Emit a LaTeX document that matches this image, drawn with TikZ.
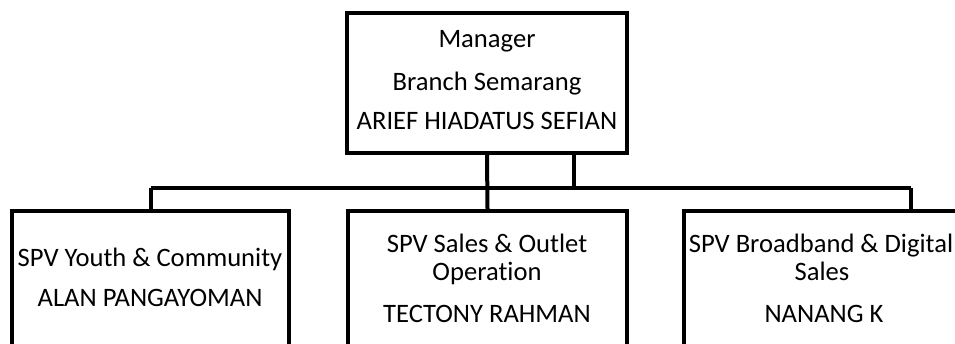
\documentclass[tikz,border=0pt]{standalone}
\usepackage{fontspec}
\setmainfont[Ligatures=NoCommon]{Carlito}
\begin{document}
\begin{tikzpicture}[x=1pt,y=-1pt,
  orgbox/.style={draw=black,line width=4pt,fill=white,inner sep=0pt},
  wire/.style={draw=black,line width=4pt},
  lbl/.style={anchor=base,inner sep=0pt,font=\fontsize{26.6}{30}\selectfont}]
\useasboundingbox (0,0) rectangle (955,344);
\clip (0,0) rectangle (955,344);

% bus level and the taps hanging from it
\coordinate (bus) at (0,188);
\coordinate (tap) at (574,188);
\coordinate (bbtap) at (911,188);

% boxes
\node[orgbox,minimum width=280pt,minimum height=140pt] (mgr) at (487,83) {};
\node[orgbox,minimum width=277pt,minimum height=160pt] (youth) at (150.5,291) {};
\node[orgbox,minimum width=279pt,minimum height=160pt] (sales) at (487.5,291) {};
\node[orgbox,minimum width=282pt,minimum height=160pt] (bband) at (825,291) {};

% connectors
\draw[wire] (youth.north |- bus) -- (bbtap);
\draw[wire] (mgr.south) -- (sales.north);
\draw[wire] (tap |- mgr.south) -- (tap);
\draw[wire] (youth.north |- bus) -- (youth.north);
\draw[wire] (bbtap) -- (bbtap |- bband.north);

% labels
\node[lbl] (m1) at (487,48) {Manager};
\node[lbl] (m2) at (487,91) {Branch Semarang};
\node[lbl] (m3) at (487,130) {ARIEF HIADATUS SEFIAN};

\node[lbl] (y1) at (150,267) {SPV Youth \& Community};
\node[lbl] (y2) at (150,307) {ALAN PANGAYOMAN};

\node[lbl] (s1) at (487,253) {SPV Sales \& Outlet};
\node[lbl] (s2) at (487,281) {Operation};
\node[lbl] (s3) at (487,323) {TECTONY RAHMAN};

\node[lbl] (b1) at (821,253) {SPV Broadband \& Digital};
\node[lbl] (b2) at (822,281) {Sales};
\node[lbl] (b3) at (824,323) {NANANG K};
\end{tikzpicture}
\end{document}
